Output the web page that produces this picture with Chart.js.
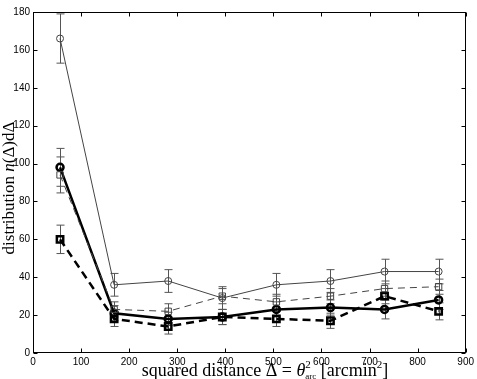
<!DOCTYPE html>
<html>
<head>
<meta charset="utf-8">
<script src="https://cdn.jsdelivr.net/npm/chart.js@4.4.0/dist/chart.umd.min.js"></script>
<style>
  html, body { margin: 0; padding: 0; background: #fff; }
</style>
</head>
<body>
<canvas id="myChart" width="477" height="379"></canvas>
<script>
// bin centres (arcmin^2)
const xBins = [56.25, 168.75, 281.25, 393.75, 506.25, 618.75, 731.25, 843.75];

// four curves
const thinCircle = [166, 36, 38, 29, 36, 38, 43, 43];
const thinCircleErr = [13, 6, 6, 6, 6, 6, 6.5, 6.5];
const thinSquare = [94, 23, 22, 30, 27, 30, 34, 35];
const thinSquareErr = [9.5, 4, 4, 4, 4, 4, 4, 4];
const thickCircle = [98, 21, 18, 19, 23, 24, 23, 28];
const thickCircleErr = [10, 4, 3.5, 4, 4, 4, 5, 5];
const thickSquare = [60, 18, 14, 19, 18, 17, 30, 22];
const thickSquareErr = [7.5, 4, 4, 4, 4, 4, 4, 4.5];

const xTicks = [0, 100, 200, 300, 400, 500, 600, 700, 800, 900];
const yTicks = [0, 20, 40, 60, 80, 100, 120, 140, 160, 180];

function pts(ys) {
  return ys.map((v, i) => ({ x: xBins[i], y: v }));
}

const SERIF = '"Liberation Serif", "DejaVu Serif", serif';
const SANS = '"Liberation Sans", Arial, sans-serif';

const errorBars = {
  id: 'errorBars',
  beforeDatasetsDraw(chart) {
    const ctx = chart.ctx;
    const xs = chart.scales.x, ys = chart.scales.y;
    ctx.save();
    ctx.strokeStyle = '#555';
    ctx.lineWidth = 1;
    chart.data.datasets.forEach(ds => {
      ds.errors.forEach((e, i) => {
        const px = Math.round(xs.getPixelForValue(ds.data[i].x)) + 0.5;
        const t = ys.getPixelForValue(ds.data[i].y + e);
        const b = ys.getPixelForValue(ds.data[i].y - e);
        ctx.beginPath();
        ctx.moveTo(px, t); ctx.lineTo(px, b);
        ctx.moveTo(px - 4, t); ctx.lineTo(px + 4, t);
        ctx.moveTo(px - 4, b); ctx.lineTo(px + 4, b);
        ctx.stroke();
      });
    });
    ctx.restore();
  }
};

function drawRuns(ctx, runs, x, y) {
  let w = 0;
  runs.forEach(r => {
    ctx.font = r.font;
    r.w = ctx.measureText(r.t).width;
    if (!r.keep) w += r.w;
  });
  let cx = x - w / 2;
  runs.forEach(r => {
    ctx.font = r.font;
    ctx.fillText(r.t, cx, y + (r.dy || 0));
    if (!r.keep) cx += r.w;
  });
}

const frame = {
  id: 'frame',
  afterDraw(chart) {
    const ctx = chart.ctx;
    const a = chart.chartArea;
    const xs = chart.scales.x, ys = chart.scales.y;
    ctx.save();
    ctx.strokeStyle = '#000';
    ctx.lineWidth = 1;
    const L = Math.round(a.left) + 0.5, R = Math.round(a.right) - 0.5;
    const T = Math.round(a.top) + 0.5, B = Math.round(a.bottom) - 0.5;
    ctx.strokeRect(L, T, R - L, B - T);
    ctx.beginPath();
    xTicks.forEach(v => {
      const px = Math.round(xs.getPixelForValue(v)) + 0.5;
      ctx.moveTo(px, B); ctx.lineTo(px, B - 4);
      ctx.moveTo(px, T); ctx.lineTo(px, T + 4);
    });
    yTicks.forEach(v => {
      const py = Math.round(ys.getPixelForValue(v)) + 0.5;
      ctx.moveTo(L, py); ctx.lineTo(L + 4, py);
      ctx.moveTo(R, py); ctx.lineTo(R - 4, py);
    });
    ctx.stroke();

    // axis titles
    ctx.fillStyle = '#000';
    ctx.textBaseline = 'alphabetic';
    ctx.textAlign = 'left';
    drawRuns(ctx, [
      { t: 'squared distance \u0394 = ', font: '18px ' + SERIF },
      { t: '\u03b8', font: 'italic 18px ' + SERIF },
      { t: '2', font: '11px ' + SERIF, dy: -8, keep: true },
      { t: 'arc', font: '9px ' + SERIF, dy: 3 },
      { t: ' [arcmin', font: '18px ' + SERIF },
      { t: '2', font: '11px ' + SERIF, dy: -8 },
      { t: ']', font: '18px ' + SERIF }
    ], 265, 376);

    ctx.translate(13.5, 188);
    ctx.rotate(-Math.PI / 2);
    drawRuns(ctx, [
      { t: 'distribution ', font: '17px ' + SERIF },
      { t: 'n', font: 'italic 17px ' + SERIF },
      { t: '(\u0394)d\u0394', font: '17px ' + SERIF }
    ], 0, 0);
    ctx.restore();
  }
};

new Chart(document.getElementById('myChart').getContext('2d'), {
  type: 'line',
  data: {
    datasets: [
      {
        label: 'thin circles',
        data: pts(thinCircle),
        errors: thinCircleErr,
        borderColor: '#444',
        borderWidth: 1,
        pointStyle: 'circle',
        pointRadius: 3.5,
        pointBorderWidth: 1,
        pointBorderColor: '#444',
        pointBackgroundColor: 'rgba(0,0,0,0)'
      },
      {
        label: 'thin squares',
        data: pts(thinSquare),
        errors: thinSquareErr,
        borderColor: '#444',
        borderWidth: 1,
        borderDash: [7, 5],
        pointStyle: 'rect',
        pointRadius: 4.5,
        pointBorderWidth: 1,
        pointBorderColor: '#444',
        pointBackgroundColor: 'rgba(0,0,0,0)'
      },
      {
        label: 'thick circles',
        data: pts(thickCircle),
        errors: thickCircleErr,
        borderColor: '#000',
        borderWidth: 2.5,
        pointStyle: 'circle',
        pointRadius: 3.5,
        pointBorderWidth: 2.5,
        pointBorderColor: '#000',
        pointBackgroundColor: 'rgba(0,0,0,0)'
      },
      {
        label: 'thick squares',
        data: pts(thickSquare),
        errors: thickSquareErr,
        borderColor: '#000',
        borderWidth: 2.5,
        borderDash: [8, 5],
        pointStyle: 'rect',
        pointRadius: 4.5,
        pointBorderWidth: 2.5,
        pointBorderColor: '#000',
        pointBackgroundColor: 'rgba(0,0,0,0)'
      }
    ]
  },
  options: {
    responsive: false,
    animation: false,
    layout: { padding: { top: 12, right: 11, left: 0, bottom: 0 } },
    plugins: { legend: { display: false }, tooltip: { enabled: false } },
    elements: { line: { tension: 0 } },
    scales: {
      x: {
        type: 'linear',
        min: 0, max: 900,
        afterBuildTicks: s => { s.ticks = xTicks.map(v => ({ value: v })); },
        afterFit: s => { s.height = 26; },
        grid: { display: false, drawTicks: false },
        border: { display: false },
        ticks: { color: '#000', padding: 3, maxRotation: 0, font: { family: SANS, size: 10 } }
      },
      y: {
        type: 'linear',
        min: 0, max: 180,
        afterBuildTicks: s => { s.ticks = yTicks.map(v => ({ value: v })); },
        afterFit: s => { s.width = 33; },
        grid: { display: false, drawTicks: false },
        border: { display: false },
        ticks: { color: '#000', padding: 3, font: { family: SANS, size: 10 } }
      }
    }
  },
  plugins: [errorBars, frame]
});
</script>
</body>
</html>
